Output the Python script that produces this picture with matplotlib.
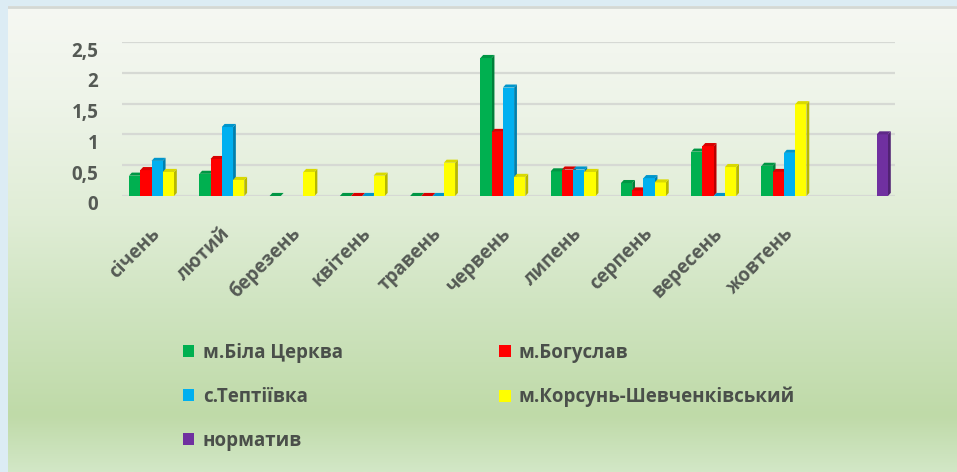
import numpy as np
import matplotlib
matplotlib.use("Agg")
import matplotlib.pyplot as plt
from matplotlib.patches import Polygon, Patch
from matplotlib.colors import to_rgb, LinearSegmentedColormap
import matplotlib.transforms as mtransforms

plt.rcParams['font.family'] = ['Open Sans', 'DejaVu Sans']

# ---- data ----
months = ["січень", "лютий", "березень", "квітень", "травень", "червень",
          "липень", "серпень", "вересень", "жовтень", ""]
nan = np.nan
bila_tserkva = [0.33, 0.36, 0.0, 0.0, 0.0, 2.24, 0.40, 0.21, 0.72, 0.49, nan]
bohuslav = [0.42, 0.60, nan, 0.0, 0.0, 1.04, 0.43, 0.09, 0.81, 0.39, nan]
teptiivka = [0.57, 1.12, nan, 0.0, 0.0, 1.76, 0.43, 0.29, 0.0, 0.70, nan]
korsun = [0.39, 0.26, 0.39, 0.33, 0.54, 0.31, 0.39, 0.22, 0.47, 1.49, nan]
normatyv = [nan, nan, nan, nan, nan, nan, nan, nan, nan, nan, 1.0]

series_names = ["м.Біла Церква", "м.Богуслав", "с.Тептіївка",
                "м.Корсунь-Шевченківський", "норматив"]
series_vals = [bila_tserkva, bohuslav, teptiivka, korsun, normatyv]
colors = ["#00b050", "#ff0000", "#00b0f0", "#ffff00", "#7030a0"]
yticks = [0, 0.5, 1, 1.5, 2, 2.5]
ytick_labels = ["0", "0,5", "1", "1,5", "2", "2,5"]

W, H = 957, 472
fig = plt.figure(figsize=(W / 100, H / 100), dpi=100)
fig.patch.set_facecolor("#dcecf4")

# ---- background panel with gradient ----
bg = fig.add_axes([8 / W, 0, 1 - 8 / W, 1 - 6 / H], zorder=-10)
cmap = LinearSegmentedColormap.from_list(
    "bg", [(0.0, "#f6f8f3"), (0.2, "#eef4e9"), (0.45, "#e0edd6"),
           (0.65, "#cfe4c0"), (0.88, "#bfdaa8"), (1.0, "#d2e7c6")])
grad = np.linspace(0, 1, 256).reshape(-1, 1)
bg.imshow(grad, aspect="auto", cmap=cmap, extent=[0, 1, 0, 1], origin="upper")
bg.set_xlim(0, 1)
bg.set_ylim(0, 1)
bg.axis("off")
bg.axhline(0.998, color="#d4d8d4", lw=2)

# ---- main axes ----
y0_px, y25_px = 196, 42
ax = fig.add_axes([122 / W, 1 - y0_px / H, (895 - 122) / W, (y0_px - y25_px) / H])
ax.set_facecolor("none")
ncat = len(months)
x = np.arange(ncat)
ax.set_xlim(-0.5, ncat - 0.5)
ax.set_ylim(0, 2.5)
for s in ax.spines.values():
    s.set_visible(False)
ax.set_yticks(yticks)
ax.set_yticklabels(ytick_labels)
ax.grid(axis="y", color="#d6d9d4", lw=1.6, zorder=0)
ax.set_axisbelow(True)
ax.tick_params(axis="y", length=0, pad=17, labelsize=13.5, labelcolor="#555a55")
ax.tick_params(axis="x", length=0, pad=25, labelsize=13.5, labelcolor="#555a55")
for lab in ax.get_yticklabels():
    lab.set_fontweight("bold")
    lab.set_transform(lab.get_transform() +
                      mtransforms.ScaledTranslation(0, -7 / 100, fig.dpi_scale_trans))
ax.set_xticks(x)
ax.set_xticklabels(months, rotation=45, ha="right", va="center",
                   rotation_mode="anchor", fontweight="bold")

nser = len(series_vals)
bw = 0.16
dx, dy = 0.04, 0.05


def darker(c, f):
    r, g, b = to_rgb(c)
    return (r * f, g * f, b * f)


for k, (vals, col) in enumerate(zip(series_vals, colors)):
    vals = np.array(vals, dtype=float)
    pos = x - (nser - 1) / 2 * bw + k * bw
    mask = ~np.isnan(vals)
    zf = 2 + k * 0.01
    bars = ax.bar(pos[mask], vals[mask], width=bw, color=col, zorder=zf + 0.005,
                  linewidth=0)
    for r in bars.patches:
        xl, w, h = r.get_x(), r.get_width(), r.get_height()
        side = Polygon([(xl + w, 0), (xl + w + dx, dy), (xl + w + dx, h + dy), (xl + w, h)],
                       closed=True, facecolor=darker(col, 0.72), edgecolor="none", zorder=zf)
        top = Polygon([(xl, h), (xl + w, h), (xl + w + dx, h + dy), (xl + dx, h + dy)],
                      closed=True, facecolor=darker(col, 0.85), edgecolor="none",
                      zorder=zf + 0.006)
        ax.add_patch(side)
        ax.add_patch(top)

# ---- legend ----
order = [0, 2, 4, 1, 3]
handles = [Patch(facecolor=colors[i], edgecolor="none") for i in order]
labels = [series_names[i] for i in order]
leg = fig.legend(handles, labels, ncol=2, loc="upper left",
                 bbox_to_anchor=(183 / W, 1 - 343 / H), frameon=False,
                 borderpad=0, borderaxespad=0, handlelength=0.6, handleheight=0.6,
                 handletextpad=0.45, labelspacing=1.27, columnspacing=8.35,
                 prop={"size": 13.5, "weight": "bold"})
for t in leg.get_texts():
    t.set_color("#4a4f4a")

fig.savefig("out.png", dpi=100, facecolor=fig.get_facecolor())
